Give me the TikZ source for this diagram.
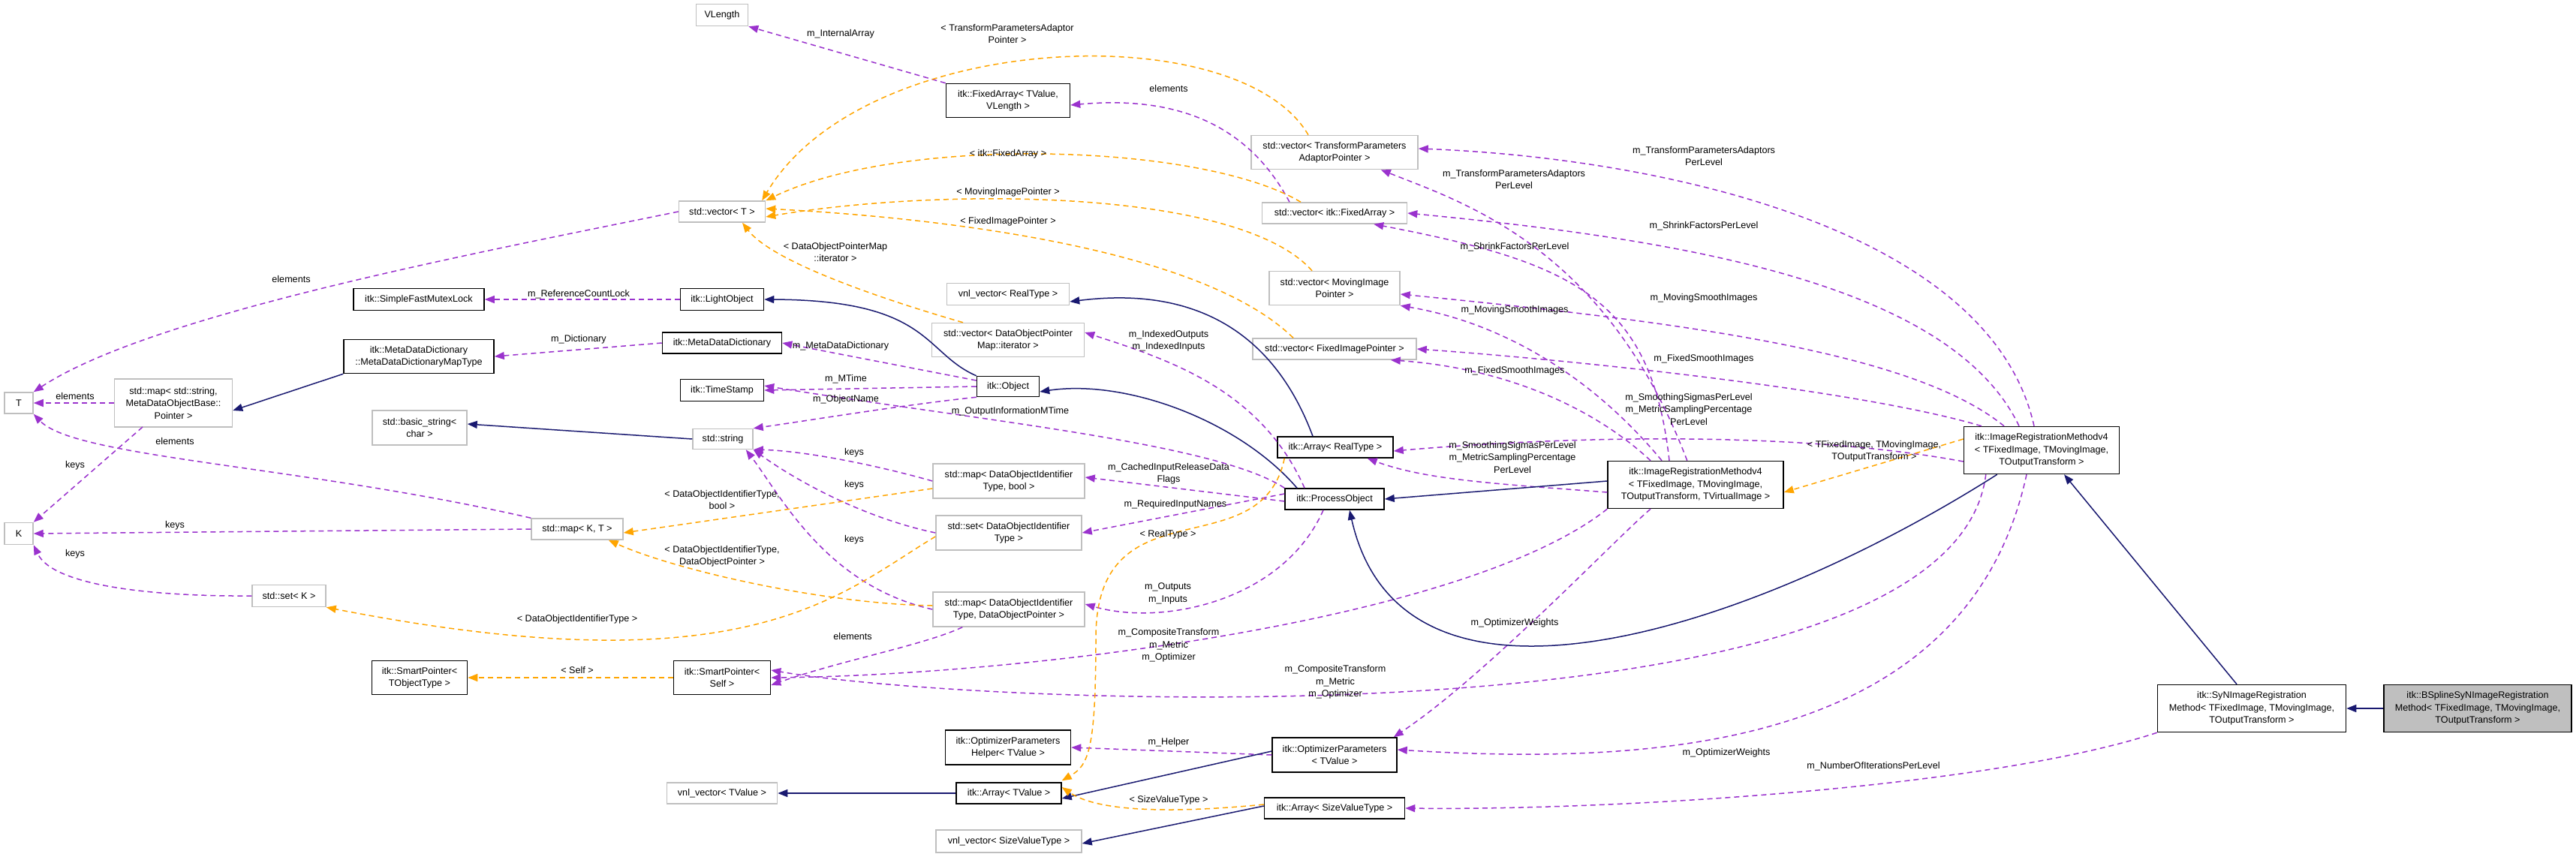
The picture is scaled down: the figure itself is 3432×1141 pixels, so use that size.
\documentclass[tikz,border=0pt]{standalone}
\usepackage{fontspec}
\setmainfont{Liberation Sans}
\usetikzlibrary{arrows.meta}
\definecolor{mem}{HTML}{9A32CD}
\definecolor{inh}{HTML}{191970}
\definecolor{tpl}{HTML}{FFA500}
\definecolor{gbrd}{HTML}{BFBFBF}
\begin{document}
\begin{tikzpicture}[x=1pt,y=-1pt,
  every node/.style={font=\fontsize{12.6}{16.5}\selectfont, align=center, inner sep=1pt},
  ub/.style 2 args={draw=gbrd, line width=1.5pt, minimum width=#1pt, minimum height=#2pt},
  db/.style 2 args={draw=black, line width=1.5pt, minimum width=#1pt, minimum height=#2pt},
  mem/.style={draw=mem, line width=1.5pt, dash pattern=on 7pt off 5pt, -{Triangle[length=13pt,width=10pt,fill=mem]}},
  tpl/.style={draw=tpl, line width=1.5pt, dash pattern=on 7pt off 5pt, -{Triangle[length=13pt,width=10pt,fill=tpl]}},
  inh/.style={draw=inh, line width=1.5pt, -{Triangle[length=13pt,width=10pt,fill=inh]}}]
\useasboundingbox (0,0) rectangle (3432,1141);
\fill[white] (0,0) rectangle (3432,1141);
% nodes
\node[ub={69}{29}] (vl) at (962,20) {VLength};
\node[ub={115}{28}] (vt) at (962,282) {std::vector< T >};
\node[db={174}{29}] (sfm) at (558,399) {itk::SimpleFastMutexLock};
\node[db={111}{29}] (lo) at (962,399) {itk::LightObject};
\node[db={200}{45}] (mdt) at (558,475) {itk::MetaDataDictionary\\::MetaDataDictionaryMapType};
\node[db={159}{28}] (mdd) at (962,457) {itk::MetaDataDictionary};
\node[db={111}{29}] (ts) at (962,520) {itk::TimeStamp};
\node[ub={38}{28}] (T) at (25,537) {T};
\node[ub={157}{64}] (mss) at (231,537) {std::map< std::string,\\ MetaDataObjectBase::\\Pointer >};
\node[ub={126}{46}] (bs) at (559,570) {std::basic\_string<\\char >};
\node[ub={80}{27}] (str) at (963,585) {std::string};
\node[ub={38}{29}] (K) at (25,711) {K};
\node[ub={122}{28}] (mkt) at (769,705) {std::map< K, T >};
\node[ub={98}{29}] (sK) at (385,794) {std::set< K >};
\node[db={127}{45}] (spt) at (559,903) {itk::SmartPointer<\\ TObjectType >};
\node[db={129}{45}] (sps) at (962,903) {itk::SmartPointer<\\ Self >};
\node[ub={147}{28}] (vnltv) at (962,1057) {vnl\_vector< TValue >};
\node[db={165}{45}] (fa) at (1343,134) {itk::FixedArray< TValue,\\ VLength >};
\node[ub={222}{45}] (vtpa) at (1778,203) {std::vector< TransformParameters\\AdaptorPointer >};
\node[ub={193}{28}] (vfa) at (1778,284) {std::vector< itk::FixedArray >};
\node[ub={174}{45}] (vmip) at (1778,384) {std::vector< MovingImage\\Pointer >};
\node[ub={163}{29}] (vnlrt) at (1343,392) {vnl\_vector< RealType >};
\node[ub={203}{45}] (dpm) at (1343,453) {std::vector< DataObjectPointer\\Map::iterator >};
\node[ub={218}{28}] (vfip) at (1778,465) {std::vector< FixedImagePointer >};
\node[db={83}{27}] (obj) at (1343,515) {itk::Object};
\node[db={154}{28}] (art) at (1779,596) {itk::Array< RealType >};
\node[ub={202}{46}] (mdb) at (1344,641) {std::map< DataObjectIdentifier\\Type, bool >};
\node[db={132}{28}] (po) at (1778,665) {itk::ProcessObject};
\node[ub={194}{46}] (sdoi) at (1344,710) {std::set< DataObjectIdentifier\\Type >};
\node[ub={202}{46}] (mdp) at (1344,812) {std::map< DataObjectIdentifier\\Type, DataObjectPointer >};
\node[db={234}{63}] (irmv) at (2259,646) {itk::ImageRegistrationMethodv4\\< TFixedImage, TMovingImage,\\ TOutputTransform, TVirtualImage >};
\node[db={167}{46}] (oph) at (1343,996) {itk::OptimizerParameters\\Helper< TValue >};
\node[db={166}{46}] (op) at (1778,1006) {itk::OptimizerParameters\\< TValue >};
\node[db={140}{28}] (atv) at (1344,1057) {itk::Array< TValue >};
\node[db={187}{28}] (asvt) at (1778,1077) {itk::Array< SizeValueType >};
\node[ub={194}{30}] (vnlsvt) at (1344,1121) {vnl\_vector< SizeValueType >};
\node[db={207}{63}] (irm) at (2720,600) {itk::ImageRegistrationMethodv4\\< TFixedImage, TMovingImage,\\ TOutputTransform >};
\node[db={251}{63}] (syn) at (3000,944) {itk::SyNImageRegistration\\Method< TFixedImage, TMovingImage,\\ TOutputTransform >};
\node[db={250}{63}, fill=gbrd] (bsp) at (3301,944) {itk::BSplineSyNImageRegistration\\Method< TFixedImage, TMovingImage,\\ TOutputTransform >};
% member edges
\draw[mem] (fa.north west) -- (vl.south east);
\draw[mem] (vt.west) .. controls (620,340) and (200,420) .. (T.north east);
\draw[mem] (mss.west) -- (T.east);
\draw[mem] (mkt.north west) .. controls (400,620) and (100,610) .. (T.south east);
\draw[mem] (190,569) -- (K.north east);
\draw[mem] (mkt.west) -- (K.east);
\draw[mem] (sK.west) .. controls (200,795) and (70,780) .. (K.south east);
\draw[mem] (lo.west) -- (sfm.east);
\draw[mem] (mdd.west) -- (mdt.east);
\draw[mem] (obj.west) ++(0,-8) -- (mdd.east);
\draw[mem] (obj.west) -- (ts.east);
\draw[mem] (obj.south west) .. controls (1200,540) and (1080,560) .. (str.north east);
\draw[mem] (po.north west) .. controls (1620,590) and (1300,560) .. ([yshift=6pt]ts.east);
\draw[mem] (mdb.west) .. controls (1150,615) and (1060,600) .. (str.south east);
\draw[mem] (sdoi.west) .. controls (1150,690) and (1060,640) .. (str.south east);
\draw[mem] (mdp.west) .. controls (1100,780) and (1040,660) .. ([xshift=-10pt]str.south east);
\draw[mem] ([xshift=40pt]mdp.south west) .. controls (1230,860) and (1120,880) .. ([yshift=-10pt]sps.east);
\draw[mem] (irmv.south west) .. controls (1950,830) and (1350,900) .. (sps.east);
\draw[mem] ([xshift=30pt]irm.south west) .. controls (2600,1000) and (1300,940) .. ([yshift=10pt]sps.east);
\draw[mem] ([yshift=-3pt]po.west) -- ([yshift=5pt]mdb.east);
\draw[mem] ([yshift=7pt]po.west) -- (sdoi.east);
\draw[mem] ([xshift=-15pt]po.south) .. controls (1710,800) and (1550,835) .. ([yshift=7pt]mdp.east);
\draw[mem] ([xshift=-40pt]po.north) .. controls (1680,520) and (1560,480) .. ([yshift=10pt]dpm.east);
\draw[mem] ([xshift=-60pt]irmv.south) .. controls (2150,720) and (1980,900) .. ([xshift=-5pt]op.north east);
\draw[mem] ([xshift=-20pt]irm.south) .. controls (2620,1000) and (2200,1020) .. ([yshift=7pt]op.east);
\draw[mem] (syn.south west) .. controls (2650,1050) and (2150,1080) .. (asvt.east);
\draw[mem] (op.west) -- (oph.east);
\draw[mem] ([yshift=-10pt]irmv.west) .. controls (2000,645) and (1900,640) .. ([xshift=-35pt]art.south east);
\draw[mem] ([yshift=-15pt]irm.west) .. controls (2400,575) and (2100,580) .. ([yshift=-5pt]art.east);
\draw[mem] ([xshift=-60pt]irmv.north) .. controls (2120,540) and (2000,490) .. ([xshift=-35pt]vfip.south east);
\draw[mem] ([xshift=-80pt]irm.north) .. controls (2480,520) and (2100,480) .. (vfip.east);
\draw[mem] ([xshift=-45pt]irmv.north) .. controls (2120,500) and (2000,430) .. (vmip.south east);
\draw[mem] ([xshift=-50pt]irm.north) .. controls (2550,470) and (2250,430) .. ([yshift=-8pt]vmip.east);
\draw[mem] ([xshift=-35pt]irmv.north) .. controls (2200,400) and (2100,350) .. ([xshift=-45pt]vfa.south east);
\draw[mem] ([xshift=-30pt]irm.north) .. controls (2600,380) and (2250,320) .. (vfa.east);
\draw[mem] ([xshift=-129pt]irmv.north east) .. controls (2140,330) and (1950,270) .. ([xshift=-50pt]vtpa.south east);
\draw[mem] ([xshift=-10pt]irm.north) .. controls (2650,300) and (2200,210) .. ([yshift=5pt]vtpa.east);
\draw[mem] ([xshift=-60pt]vfa.north) .. controls (1660,160) and (1560,128) .. ([yshift=-6pt]fa.east);
% inheritance
\draw[inh] (mdt.south west) -- ([yshift=-10pt]mss.east);
\draw[inh] (str.west) -- ([yshift=5pt]bs.east);
\draw[inh] (obj.north west) .. controls (1230,470) and (1240,400) .. (lo.east);
\draw[inh] ([xshift=-50pt]po.north) .. controls (1650,560) and (1500,505) .. ([yshift=-7pt]obj.east);
\draw[inh] ([xshift=-30pt]art.north) .. controls (1700,450) and (1600,380) .. ([yshift=-10pt]vnlrt.east);
\draw[inh] ([yshift=5pt]irmv.west) -- (po.east);
\draw[inh] ([xshift=45pt]irm.south west) .. controls (2350,830) and (1870,1000) .. ([xshift=20pt]po.south);
\draw[inh] ([yshift=5pt]op.west) -- ([yshift=-7pt]atv.east);
\draw[inh] (atv.west) -- (vnltv.east);
\draw[inh] ([yshift=3pt]asvt.west) -- ([yshift=-3pt]vnlsvt.east);
\draw[inh] ([xshift=-20pt]syn.north) -- ([xshift=30pt]irm.south);
\draw[inh] (bsp.west) -- (syn.east);
% template
\draw[tpl] ([xshift=-35pt]vtpa.north) .. controls (1650,20) and (1150,40) .. ([xshift=-5pt]vt.north east);
\draw[tpl] ([xshift=-45pt]vfa.north) .. controls (1600,190) and (1200,180) .. (vt.north east);
\draw[tpl] ([xshift=-30pt]vmip.north) .. controls (1650,250) and (1250,250) .. ([yshift=-7pt]vt.east);
\draw[tpl] ([xshift=-55pt]vfip.north) .. controls (1600,330) and (1250,290) .. ([yshift=4pt]vt.east);
\draw[tpl] ([xshift=-60pt]dpm.north) .. controls (1180,400) and (1030,350) .. ([xshift=27pt]vt.south);
\draw[tpl] ([yshift=-10pt]mdb.west) -- ([yshift=-5pt]mkt.east);
\draw[tpl] ([yshift=5pt]mdp.west) .. controls (1100,805) and (900,760) .. ([xshift=-20pt]mkt.south east);
\draw[tpl] ([yshift=-5pt]sdoi.west) .. controls (1120,790) and (1000,920) .. (sK.south east);
\draw[tpl] (sps.west) -- (spt.east);
\draw[tpl] ([xshift=10pt]art.south west) .. controls (1680,760) and (1460,640) .. (1460,850) .. controls (1460,1000) and (1450,1020) .. ([yshift=2pt]atv.north east);
\draw[tpl] ([yshift=5pt]asvt.west) .. controls (1550,1085) and (1460,1080) .. ([yshift=8pt]atv.east);
\draw[tpl] ([yshift=15pt]irm.west) -- ([yshift=-10pt]irmv.east);
% labels
\node (l1) at (1120,45) {m\_InternalArray};
\node (l2) at (388,372) {elements};
\node (l3) at (100,528) {elements};
\node (l4) at (233,588) {elements};
\node (l5) at (100,620) {keys};
\node (l6) at (233,700) {keys};
\node (l7) at (100,738) {keys};
\node (l8) at (771,392) {m\_ReferenceCountLock};
\node (l9) at (771,452) {m\_Dictionary};
\node (l10) at (1120,461) {m\_MetaDataDictionary};
\node (l11) at (1127,505) {m\_MTime};
\node (l12) at (1127,532) {m\_ObjectName};
\node (l13) at (1346,548) {m\_OutputInformationMTime};
\node (l14) at (1138,603) {keys};
\node (l15) at (1138,646) {keys};
\node (l16) at (1138,719) {keys};
\node (l17) at (1136,848) {elements};
\node (l18) at (1557,631) {m\_CachedInputReleaseData\\Flags};
\node (l19) at (1566,672) {m\_RequiredInputNames};
\node (l20) at (1556,791) {m\_Outputs\\m\_Inputs};
\node (l21) at (1557,454) {m\_IndexedOutputs\\m\_IndexedInputs};
\node (l22) at (1557,860) {m\_CompositeTransform\\m\_Metric\\m\_Optimizer};
\node (l23) at (1779,909) {m\_CompositeTransform\\m\_Metric\\m\_Optimizer};
\node (l24) at (2018,830) {m\_OptimizerWeights};
\node (l25) at (2300,1003) {m\_OptimizerWeights};
\node (l26) at (2496,1021) {m\_NumberOfIterationsPerLevel};
\node (l27) at (1557,989) {m\_Helper};
\node (l28) at (2015,609) {m\_SmoothingSigmasPerLevel\\m\_MetricSamplingPercentage\\PerLevel};
\node (l29) at (2250,545) {m\_SmoothingSigmasPerLevel\\m\_MetricSamplingPercentage\\PerLevel};
\node (l30) at (2018,494) {m\_FixedSmoothImages};
\node (l31) at (2270,478) {m\_FixedSmoothImages};
\node (l32) at (2018,413) {m\_MovingSmoothImages};
\node (l33) at (2270,397) {m\_MovingSmoothImages};
\node (l34) at (2018,329) {m\_ShrinkFactorsPerLevel};
\node (l35) at (2270,301) {m\_ShrinkFactorsPerLevel};
\node (l36) at (2017,239) {m\_TransformParametersAdaptors\\PerLevel};
\node (l37) at (2270,208) {m\_TransformParametersAdaptors\\PerLevel};
\node (l38) at (1557,118) {elements};
\node (t1) at (1342,45) {< TransformParametersAdaptor\\Pointer >};
\node (t2) at (1343,205) {< itk::FixedArray >};
\node (t3) at (1343,256) {< MovingImagePointer >};
\node (t4) at (1343,295) {< FixedImagePointer >};
\node (t5) at (1113,336) {< DataObjectPointerMap\\::iterator >};
\node (t6) at (962,666) {< DataObjectIdentifierType,\\bool >};
\node (t7) at (962,741) {< DataObjectIdentifierType,\\DataObjectPointer >};
\node (t8) at (769,825) {< DataObjectIdentifierType >};
\node (t9) at (769,893) {< Self >};
\node (t10) at (1556,712) {< RealType >};
\node (t11) at (1557,1066) {< SizeValueType >};
\node (t12) at (2497,601) {< TFixedImage, TMovingImage,\\TOutputTransform >};
\end{tikzpicture}
\end{document}
